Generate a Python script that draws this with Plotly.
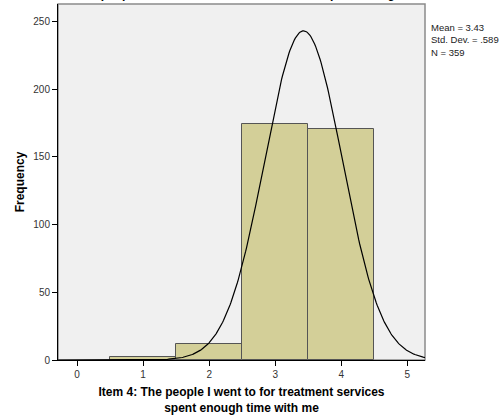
import numpy as np
import plotly.graph_objects as go

# Data
categories = [1, 2, 3, 4]
counts = [2, 12, 174, 171]
mean_val = 3.43
sd_val = 0.589
n_val = 359
x_ticks = [0, 1, 2, 3, 4, 5]
y_ticks = [0, 50, 100, 150, 200, 250]
title_text = "Item 4: The people I went to for treatment services spent enough time with me"
x_title = "Item 4: The people I went to for treatment services<br>spent enough time with me"
y_title = "Frequency"
stats_text = "Mean = 3.43<br>Std. Dev. = .589<br>N = 359"

x_range = [-0.29, 5.27]
xs = np.linspace(x_range[0], x_range[1], 400)
ys = n_val * 1.0 / (sd_val * np.sqrt(2 * np.pi)) * np.exp(-0.5 * ((xs - mean_val) / sd_val) ** 2)

fig = go.Figure()
fig.add_trace(go.Bar(
    x=categories, y=counts, width=1,
    marker=dict(color="#d3cf98", line=dict(color="#555555", width=1)),
    showlegend=False, hoverinfo="skip"))
fig.add_trace(go.Scatter(
    x=xs, y=ys, mode="lines", line=dict(color="#000000", width=1.2),
    showlegend=False, hoverinfo="skip"))

fig.update_layout(
    width=502, height=417,
    margin=dict(l=58, r=77, t=4, b=57),
    paper_bgcolor="white", plot_bgcolor="#f0f0f0",
    font=dict(family="Arial, Liberation Sans, sans-serif", size=10, color="#333333"),
    bargap=0,
    shapes=[dict(type="rect", xref="paper", yref="paper", x0=0, x1=1, y0=0, y1=1,
                 line=dict(color="#8a8a8a", width=1.5), layer="below")],
    annotations=[
        dict(text=stats_text, xref="paper", yref="paper", x=1.012, y=0.955,
             xanchor="left", yanchor="top", showarrow=False, align="left",
             font=dict(size=9.5, color="#222222")),
        dict(text="<b>" + title_text + "</b>", xref="paper", yref="paper",
             x=0.54, y=1.0, xanchor="center", yanchor="bottom", yshift=1,
             showarrow=False, font=dict(size=12, color="#000000")),
    ],
)
fig.update_xaxes(
    range=x_range, tickvals=x_ticks, ticks="outside", ticklen=5, tickcolor="#000000",
    showline=True, linecolor="#000000", linewidth=1, showgrid=False, zeroline=False,
    tickfont=dict(size=10, color="#333333"),
    title=dict(text="<b>" + x_title + "</b>", font=dict(size=12, color="#000000"), standoff=8))
fig.update_yaxes(
    range=[0, 263], tickvals=y_ticks, ticks="outside", ticklen=5, tickcolor="#000000",
    showline=True, linecolor="#000000", linewidth=1, showgrid=False, zeroline=False,
    tickfont=dict(size=10, color="#333333"),
    title=dict(text="<b>" + y_title + "</b>", font=dict(size=12, color="#000000"), standoff=6))

fig.write_html("out.html", config={"displayModeBar": False},
               post_script="document.body.style.margin='0';document.body.style.overflow='hidden';")
